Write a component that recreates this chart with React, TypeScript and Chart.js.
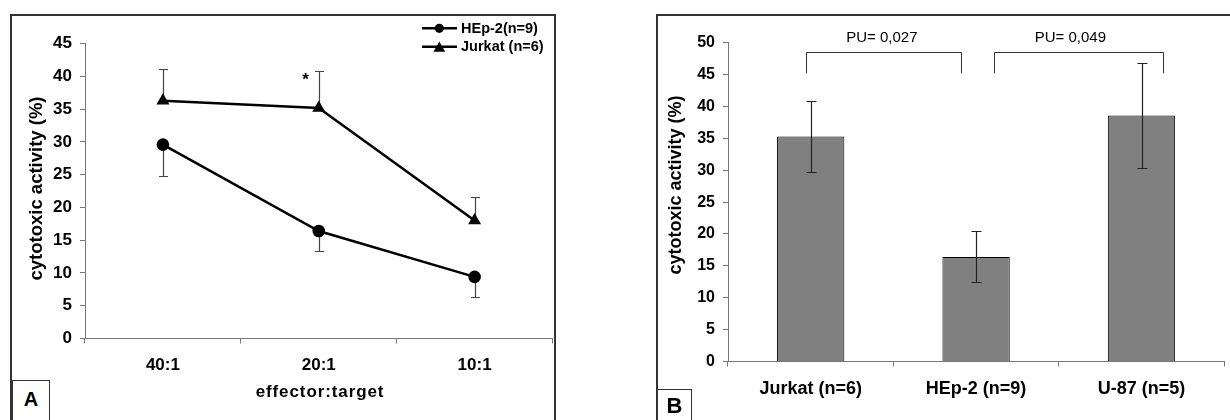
import React, { useEffect, useRef } from 'react';
import { Chart, registerables } from 'chart.js';
Chart.register(...registerables);

// ---- Panel A data ----
const ratioLabels = ['40:1', '20:1', '10:1'];
const hep2Values = [29.6, 16.4, 9.4];
const hep2Sd = [4.8, 3.1, 3.1];
const jurkatValues = [36.3, 35.2, 18.0];
const jurkatSd = [4.9, 5.6, 3.6];
const legendLabels = ['HEp-2(n=9)', 'Jurkat (n=6)'];
const starIndex = 0.915;
const starValue = 38.7;

// ---- Panel B data ----
const cellLabels = ['Jurkat (n=6)', 'HEp-2 (n=9)', 'U-87 (n=5)'];
const cellValues = [35.3, 16.4, 38.6];
const cellSd = [5.6, 4.0, 8.2];
const pLabels = ['PU= 0,027', 'PU= 0,049'];
const bracketStart = [-0.03, 1.11];
const bracketEnd = [0.91, 2.13];
const bracketTop = 48.5;
const bracketFoot = 45.2;
const pLabelIndex = [0.43, 1.57];
const pLabelValue = 50.7;

const FONT = "'Liberation Sans', Arial, Helvetica, sans-serif";
Chart.defaults.font.family = FONT;

function tri(ctx: CanvasRenderingContext2D, x: number, y: number, r: number) {
  const h = r * 1.5;
  const w = r * Math.sqrt(3);
  ctx.beginPath();
  ctx.moveTo(x, y - h / 2);
  ctx.lineTo(x + w / 2, y + h / 2);
  ctx.lineTo(x - w / 2, y + h / 2);
  ctx.closePath();
  ctx.fill();
}

function vText(ctx: CanvasRenderingContext2D, text: string, x: number, y: number, font: string) {
  ctx.save();
  ctx.translate(x, y);
  ctx.rotate(-Math.PI / 2);
  ctx.font = font;
  ctx.fillStyle = '#000';
  ctx.textAlign = 'center';
  ctx.textBaseline = 'middle';
  ctx.fillText(text, 0, 0);
  ctx.restore();
}

function ChartA() {
  const ref = useRef<HTMLCanvasElement>(null);
  useEffect(() => {
    const errPlugin = {
      id: 'errA',
      beforeDatasetsDraw(chart: any) {
        const { ctx, scales } = chart;
        const x = scales.x, y = scales.y;
        ctx.save();
        ctx.strokeStyle = '#444';
        ctx.lineWidth = 1.2;
        const draw = (vals: number[], sds: number[], dir: number) =>
          vals.forEach((v, i) => {
            const px = Math.round(x.getPixelForValue(i)) + 0.5;
            const y0 = y.getPixelForValue(v);
            const y1 = Math.round(y.getPixelForValue(v + dir * sds[i])) + 0.5;
            ctx.beginPath();
            ctx.moveTo(px, y0);
            ctx.lineTo(px, y1);
            ctx.moveTo(px - 4.5, y1);
            ctx.lineTo(px + 4.5, y1);
            ctx.stroke();
          });
        draw(jurkatValues, jurkatSd, 1);
        draw(hep2Values, hep2Sd, -1);
        ctx.restore();
      },
      afterDraw(chart: any) {
        const { ctx, scales } = chart;
        const x = scales.x, y = scales.y;
        ctx.save();
        // legend
        const rows = [28.3, 46.7];
        rows.forEach((ry, i) => {
          ctx.strokeStyle = '#000';
          ctx.lineWidth = 2.5;
          ctx.beginPath();
          ctx.moveTo(422, ry);
          ctx.lineTo(457, ry);
          ctx.stroke();
          ctx.fillStyle = '#000';
          if (i === 0) {
            ctx.beginPath();
            ctx.arc(439.3, ry, 4.6, 0, Math.PI * 2);
            ctx.fill();
          } else {
            tri(ctx, 439.3, ry, 6.8);
          }
          ctx.font = `bold 14.5px ${FONT}`;
          ctx.textAlign = 'left';
          ctx.textBaseline = 'middle';
          ctx.fillText(legendLabels[i], 461, ry + 0.5);
        });
        // asterisk
        ctx.font = `bold 17px ${FONT}`;
        ctx.textAlign = 'center';
        ctx.textBaseline = 'alphabetic';
        ctx.fillText('*', x.getPixelForValue(0) + starIndex * (x.getPixelForValue(1) - x.getPixelForValue(0)), y.getPixelForValue(starValue));
        // axis titles
        vText(ctx, 'cytotoxic activity (%)', 36.5, 188.5, `bold 18.5px ${FONT}`);
        ctx.font = `bold 17px ${FONT}`;
        (ctx as any).letterSpacing = '0.9px';
        ctx.textAlign = 'center';
        ctx.textBaseline = 'alphabetic';
        ctx.fillText('effector:target', 320, 396.5);
        ctx.restore();
      },
    };
    const chart = new Chart(ref.current!, {
      type: 'line',
      data: {
        labels: ratioLabels,
        datasets: [
          {
            label: legendLabels[0],
            data: hep2Values,
            borderColor: '#000',
            backgroundColor: '#000',
            borderWidth: 2.5,
            pointStyle: 'circle',
            pointRadius: 6.3,
            pointBorderWidth: 0,
            pointBackgroundColor: '#000',
            tension: 0,
          },
          {
            label: legendLabels[1],
            data: jurkatValues,
            borderColor: '#000',
            backgroundColor: '#000',
            borderWidth: 2.5,
            pointStyle: 'triangle',
            pointRadius: 7.5,
            pointBorderWidth: 0,
            pointBackgroundColor: '#000',
            tension: 0,
          },
        ],
      },
      options: {
        responsive: false,
        animation: false,
        devicePixelRatio: 1,
        layout: { padding: { left: 0, top: 43.7, right: 5, bottom: 0 } },
        plugins: { legend: { display: false }, tooltip: { enabled: false } },
        scales: {
          x: {
            type: 'category',
            offset: true,
            grid: { offset: true, drawOnChartArea: false, drawTicks: true, tickLength: 5, color: '#777' },
            border: { color: '#777', width: 1 },
            ticks: { color: '#000', font: { size: 17, weight: 'bold' }, padding: 12 },
            afterFit: (s: any) => { s.height = 81.5; },
          },
          y: {
            min: 0,
            max: 45,
            grid: { drawOnChartArea: false, drawTicks: true, tickLength: 5, color: '#777' },
            border: { color: '#777', width: 1 },
            ticks: { stepSize: 5, color: '#000', font: { size: 17, weight: 'bold' }, padding: 8 },
            afterFit: (s: any) => { s.width = 85; },
          },
        },
      },
      plugins: [errPlugin],
    } as any);
    return () => chart.destroy();
  }, []);
  return <canvas ref={ref} width={560} height={420} style={{ position: 'absolute', left: 0, top: 0 }} />;
}

function ChartB() {
  const ref = useRef<HTMLCanvasElement>(null);
  useEffect(() => {
    const plugin = {
      id: 'decoB',
      afterDatasetsDraw(chart: any) {
        const { ctx, scales } = chart;
        const x = scales.x, y = scales.y;
        ctx.save();
        ctx.strokeStyle = '#222';
        ctx.lineWidth = 1.2;
        cellValues.forEach((v, i) => {
          const px = Math.round(x.getPixelForValue(i)) + 0.5;
          const yt = Math.round(y.getPixelForValue(v + cellSd[i])) + 0.5;
          const yb = Math.round(y.getPixelForValue(v - cellSd[i])) + 0.5;
          ctx.beginPath();
          ctx.moveTo(px, yt);
          ctx.lineTo(px, yb);
          ctx.moveTo(px - 5, yt);
          ctx.lineTo(px + 5, yt);
          ctx.moveTo(px - 5, yb);
          ctx.lineTo(px + 5, yb);
          ctx.stroke();
        });
        const step = x.getPixelForValue(1) - x.getPixelForValue(0);
        const ix = (t: number) => x.getPixelForValue(0) + t * step;
        ctx.strokeStyle = '#333';
        ctx.lineWidth = 1;
        const top = Math.round(y.getPixelForValue(bracketTop)) + 0.5;
        const foot = y.getPixelForValue(bracketFoot);
        bracketStart.forEach((s, i) => {
          const l = Math.round(ix(s)) + 0.5;
          const r = Math.round(ix(bracketEnd[i])) + 0.5;
          ctx.beginPath();
          ctx.moveTo(l, foot);
          ctx.lineTo(l, top);
          ctx.lineTo(r, top);
          ctx.lineTo(r, foot);
          ctx.stroke();
          ctx.fillStyle = '#000';
          ctx.font = `15px ${FONT}`;
          ctx.textAlign = 'center';
          ctx.textBaseline = 'middle';
          ctx.fillText(pLabels[i], ix(pLabelIndex[i]), y.getPixelForValue(pLabelValue));
        });
        vText(ctx, 'cytotoxic activity (%)', 76, 185, `bold 18px ${FONT}`);
        ctx.restore();
      },
    };
    const chart = new Chart(ref.current!, {
      type: 'bar',
      data: {
        labels: cellLabels,
        datasets: [
          {
            label: 'cytotoxic activity',
            data: cellValues,
            backgroundColor: '#808080',
            borderColor: '#000',
            borderWidth: 1,
            barPercentage: 0.407,
            categoryPercentage: 1,
          },
        ],
      },
      options: {
        responsive: false,
        animation: false,
        devicePixelRatio: 1,
        layout: { padding: { left: 0, top: 42.7, right: 5.8, bottom: 0 } },
        plugins: { legend: { display: false }, tooltip: { enabled: false } },
        scales: {
          x: {
            grid: { offset: true, drawOnChartArea: false, drawTicks: true, tickLength: 5, color: '#777' },
            border: { color: '#777', width: 1 },
            ticks: { color: '#000', font: { size: 18, weight: 'bold' }, padding: 12 },
            afterFit: (s: any) => { s.height = 58.5; },
          },
          y: {
            min: 0,
            max: 50,
            grid: { drawOnChartArea: false, drawTicks: true, tickLength: 5, color: '#777' },
            border: { color: '#777', width: 1 },
            ticks: { stepSize: 5, color: '#000', font: { size: 16, weight: 'bold' }, padding: 8 },
            afterFit: (s: any) => { s.width = 128; },
          },
        },
      },
      plugins: [plugin],
    } as any);
    return () => chart.destroy();
  }, []);
  return <canvas ref={ref} width={630} height={420} style={{ position: 'absolute', left: 600, top: 0 }} />;
}

export default function App() {
  const letter: React.CSSProperties = {
    position: 'absolute',
    fontFamily: FONT,
    fontWeight: 'bold',
    color: '#000',
    textAlign: 'center',
  };
  return (
    <div style={{ position: 'fixed', left: 0, top: 0, width: 1230, height: 420, background: '#fff', overflow: 'hidden' }}>
      <ChartA />
      <ChartB />
      <div style={{ position: 'absolute', left: 10, top: 14, width: 546, height: 430, borderLeft: '2px solid #333', borderTop: '2px solid #333', borderRight: '2px solid #333', boxSizing: 'border-box' }} />
      <div style={{ position: 'absolute', left: 656, top: 14, width: 600, height: 430, borderLeft: '2px solid #333', borderTop: '2px solid #333', boxSizing: 'border-box' }} />
      <div style={{ position: 'absolute', left: 12, top: 380, width: 38, height: 50, border: '1px solid #333', boxSizing: 'border-box', background: '#fff' }} />
      <div style={{ ...letter, left: 12, top: 387, width: 38, fontSize: 20, lineHeight: '24px' }}>A</div>
      <div style={{ position: 'absolute', left: 657, top: 389, width: 35, height: 50, border: '1px solid #333', boxSizing: 'border-box', background: '#fff' }} />
      <div style={{ ...letter, left: 657, top: 393, width: 35, fontSize: 22, lineHeight: '26px' }}>B</div>
    </div>
  );
}
